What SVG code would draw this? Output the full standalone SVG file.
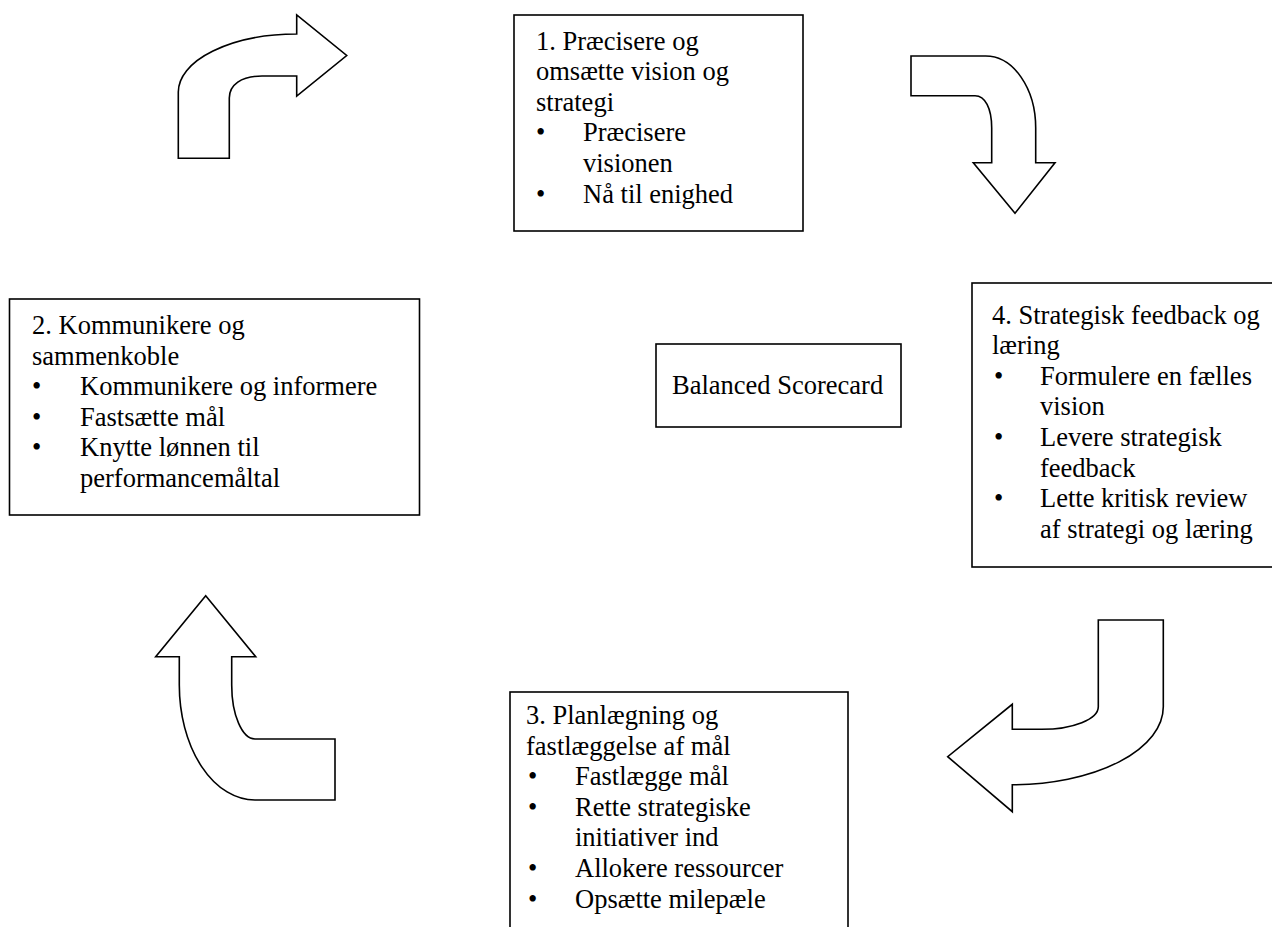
<svg xmlns="http://www.w3.org/2000/svg" width="1272" height="927" viewBox="0 0 1272 927">
<style>
.bg{fill:#fff}
.box{fill:#fff;stroke:#000;stroke-width:1.6}
.arr{fill:#fff;stroke:#000;stroke-width:1.6;stroke-linejoin:miter}
.t{font-family:"Liberation Serif","Times New Roman",serif;font-size:26.5px;fill:#000}
.big{font-family:"Liberation Serif","Times New Roman",serif;font-size:26.5px;fill:#000}
</style>
<rect class="bg" x="0" y="0" width="1272" height="927"/>
<g id="connectors">
<path id="arrow1" class="arr" d="M178.3,158.3 L178.3,92 A118.4,58 0 0 1 296.7,34 L296.7,15 L346.7,55.5 L296.7,96 L296.7,76 L262,76 C241,76 229.3,85 229.3,98 L229.3,158.3 Z"/>
<path id="arrow2" class="arr" d="M911,56 L985.7,56 A50,72 0 0 1 1035.7,128 L1035.7,162.7 L1055,162.7 L1015,213.3 L973.3,162.7 L991.7,162.7 L991.7,128 C991.7,108 985,95.7 975,95.7 L911,95.7 Z"/>
<path id="arrow3" class="arr" d="M1098.3,620 L1163.3,620 L1163.3,706.7 A151,78 0 0 1 1012.3,784.7 L1012.3,811.7 L947.7,756.7 L1012.3,704.3 L1012.3,729.3 L1041.7,729.3 A56.6,22.6 0 0 0 1098.3,706.7 Z"/>
<path id="arrow4" class="arr" d="M205.7,595.7 L255.7,656.7 L231.7,656.7 L231.7,685 A23.3,54 0 0 0 255,739 L335,739 L335,800 L255,800 A75.7,115 0 0 1 179.3,685 L179.3,656.7 L155.7,656.7 Z"/>
</g>
<g id="node1">
<rect class="box" x="514" y="15" width="289" height="216"/>
<text class="t">
<tspan x="536" y="49.5">1. Præcisere og</tspan>
<tspan x="536" y="80.1">omsætte vision og</tspan>
<tspan x="536" y="110.7">strategi</tspan>
<tspan x="536" y="141.3">•</tspan><tspan x="583" y="141.3">Præcisere</tspan>
<tspan x="583" y="171.9">visionen</tspan>
<tspan x="536" y="202.5">•</tspan><tspan x="583" y="202.5">Nå til enighed</tspan>
</text>
</g>
<g id="node2">
<rect class="box" x="9.5" y="299" width="410" height="216"/>
<text class="t">
<tspan x="32" y="334">2. Kommunikere og</tspan>
<tspan x="32" y="364.6">sammenkoble</tspan>
<tspan x="32" y="395.2">•</tspan><tspan x="80" y="395.2">Kommunikere og informere</tspan>
<tspan x="32" y="425.8">•</tspan><tspan x="80" y="425.8">Fastsætte mål</tspan>
<tspan x="32" y="456.4">•</tspan><tspan x="80" y="456.4">Knytte lønnen til</tspan>
<tspan x="80" y="487">performancemåltal</tspan>
</text>
</g>
<g id="node-bsc">
<rect class="box" x="656" y="344" width="245" height="83"/>
<text class="big" x="672" y="394">Balanced Scorecard</text>
</g>
<g id="node4">
<rect class="box" x="972" y="283" width="320" height="284"/>
<text class="t">
<tspan x="992" y="323.5">4. Strategisk feedback og</tspan>
<tspan x="992" y="354.1">læring</tspan>
<tspan x="994" y="384.7">•</tspan><tspan x="1040" y="384.7">Formulere en fælles</tspan>
<tspan x="1040" y="415.3">vision</tspan>
<tspan x="994" y="445.9">•</tspan><tspan x="1040" y="445.9">Levere strategisk</tspan>
<tspan x="1040" y="476.5">feedback</tspan>
<tspan x="994" y="507.1">•</tspan><tspan x="1040" y="507.1">Lette kritisk review</tspan>
<tspan x="1040" y="537.7">af strategi og læring</tspan>
</text>
</g>
<g id="node3">
<rect class="box" x="510" y="692" width="338" height="260"/>
<text class="t">
<tspan x="526" y="724">3. Planlægning og</tspan>
<tspan x="526" y="754.6">fastlæggelse af mål</tspan>
<tspan x="528" y="785.2">•</tspan><tspan x="575" y="785.2">Fastlægge mål</tspan>
<tspan x="528" y="815.8">•</tspan><tspan x="575" y="815.8">Rette strategiske</tspan>
<tspan x="575" y="846.4">initiativer ind</tspan>
<tspan x="528" y="877">•</tspan><tspan x="575" y="877">Allokere ressourcer</tspan>
<tspan x="528" y="907.6">•</tspan><tspan x="575" y="907.6">Opsætte milepæle</tspan>
</text>
</g>
</svg>
